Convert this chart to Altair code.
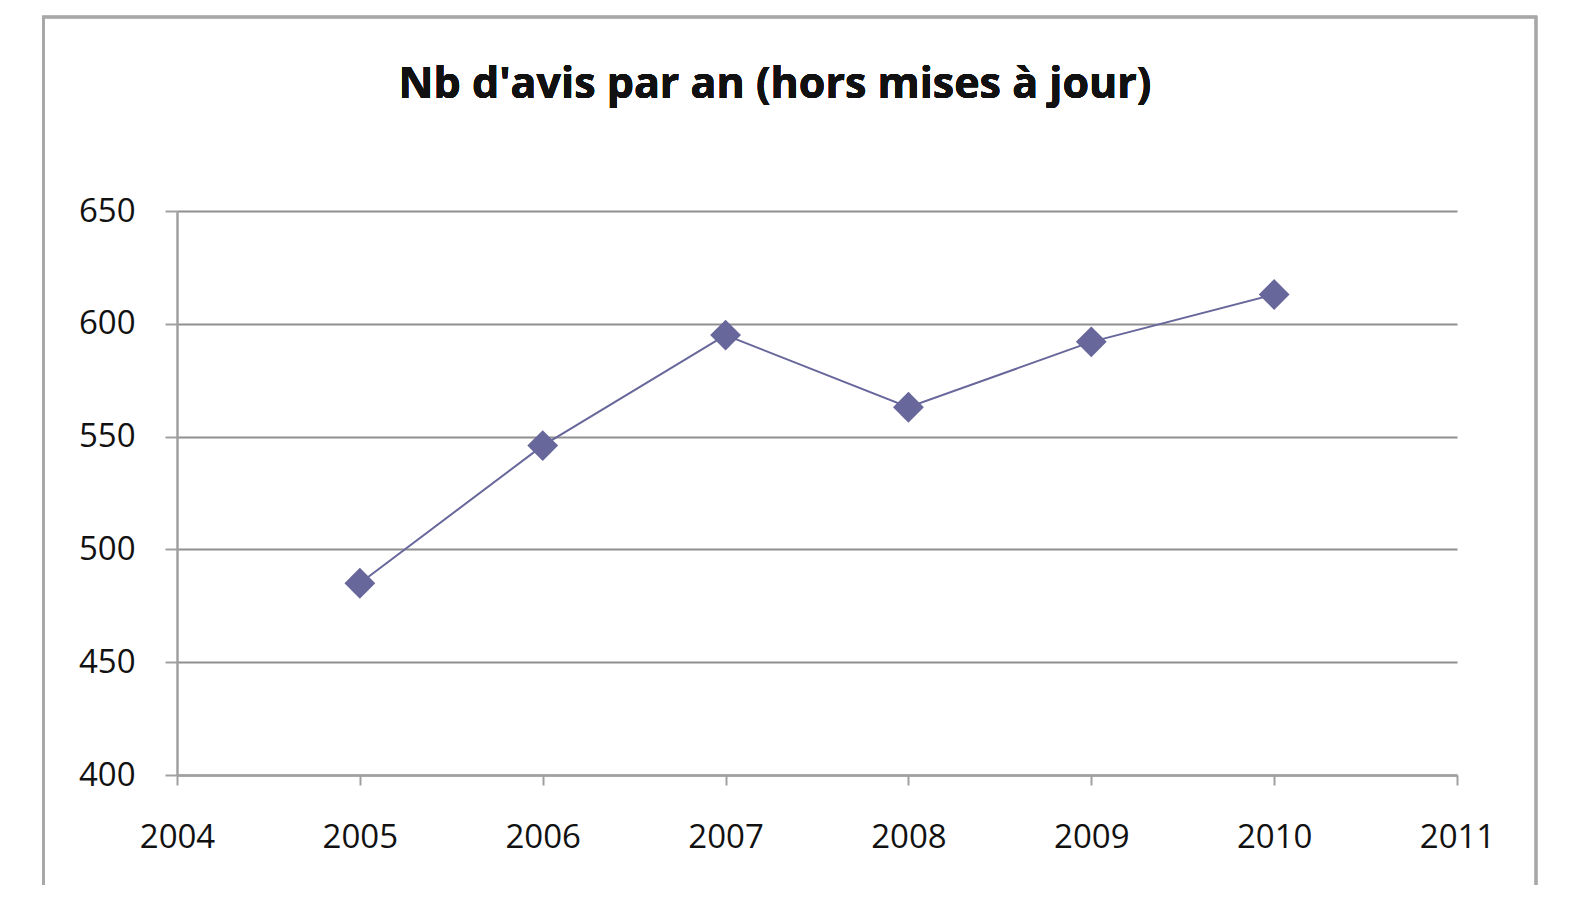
import altair as alt
import pandas as pd

years = [2005, 2006, 2007, 2008, 2009, 2010]
counts = [485, 546, 595, 563, 592, 613]
x_ticks = [2004, 2005, 2006, 2007, 2008, 2009, 2010, 2011]
y_ticks = [400, 450, 500, 550, 600, 650]
title_text = "Nb d'avis par an (hors mises à jour)"

df = pd.DataFrame({"annee": years, "avis": counts})

FONT = "Open Sans"
LINE_COLOR = "#67679b"

x_enc = alt.X(
    "annee:Q",
    scale=alt.Scale(domain=[2004, 2011], nice=False, zero=False),
    axis=alt.Axis(
        values=x_ticks, format="d", title=None, grid=False,
        tickSize=10, labelPadding=36, labelFlush=False,
    ),
)
y_enc = alt.Y(
    "avis:Q",
    scale=alt.Scale(domain=[400, 650], nice=False, zero=False),
    axis=alt.Axis(
        values=y_ticks, title=None, grid=True,
        tickSize=12, labelPadding=30, labelFlush=False,
    ),
)

base = alt.Chart(df)

frame = base.mark_rect(
    fill="white", fillOpacity=0, stroke="#a8a8a8", strokeWidth=2.5
).encode(
    x=alt.value(-133.5), x2=alt.value(1359),
    y=alt.value(-194), y2=alt.value(720),
)

line = base.mark_line(color=LINE_COLOR, strokeWidth=2).encode(x=x_enc, y=y_enc)
points = base.mark_point(
    shape="diamond", filled=True, size=950, color=LINE_COLOR, opacity=1
).encode(x="annee:Q", y="avis:Q")

title = base.mark_text(
    text=title_text, font=FONT, fontSize=43, fontWeight="bold",
    color="#111111", align="center", baseline="alphabetic",
).encode(x=alt.value(598), y=alt.value(-113))

chart = alt.layer(frame, line, points, title).properties(
    width=1280,
    height=564,
    padding={"left": 169, "top": 203, "right": 100, "bottom": 110},
    autosize=alt.AutoSizeParams(type="none"),
).configure_view(stroke=None).configure_axis(
    labelFont=FONT, labelFontSize=33, labelColor="#111111",
    domainColor="#a0a0a0", domainWidth=2.5,
    tickColor="#a0a0a0", tickWidth=2,
    gridColor="#8f8f8f", gridWidth=2,
)

chart.save("out.html", embed_options={"renderer": "svg", "actions": False})
